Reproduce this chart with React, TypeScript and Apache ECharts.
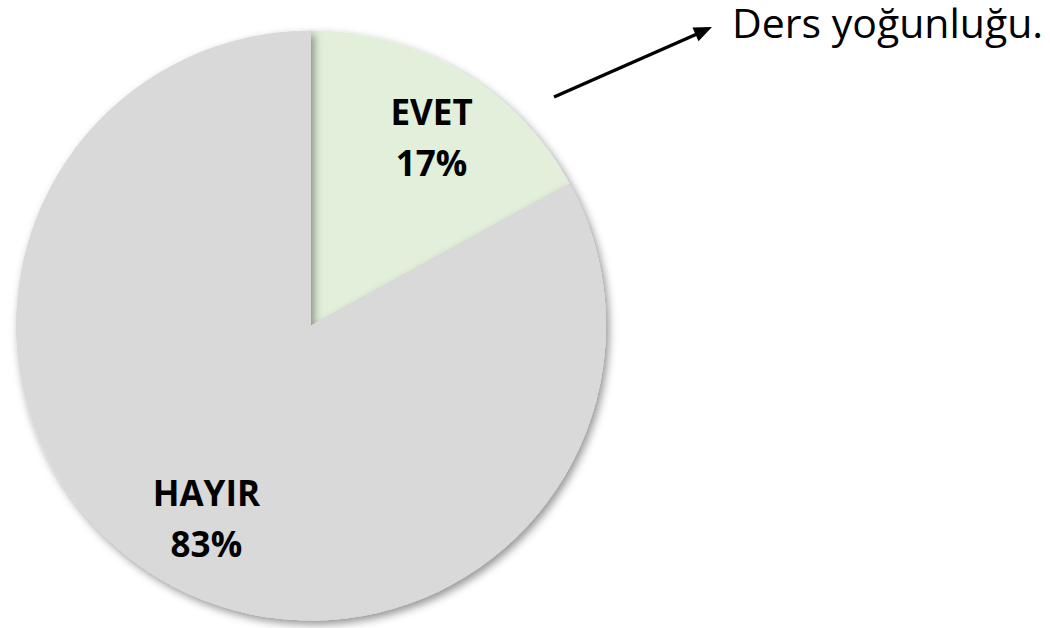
import React, { useEffect, useRef } from "react";
import * as echarts from "echarts";

const categories = ["EVET", "HAYIR"];
const values = [17, 83];
const colors = ["#E2EFDA", "#D9D9D9"];
const annotation = "Ders yoğunluğu.";

export default function App() {
  const ref = useRef<HTMLDivElement>(null);
  useEffect(() => {
    document.body.style.margin = "0";
    const chart = echarts.init(ref.current!, null, { renderer: "svg" });
    const cx = 311;
    const cy = 325.5;
    const k = 1.47;
    chart.setOption({
      animation: false,
      backgroundColor: "#ffffff",
      series: [
        {
          type: "pie",
          center: [cx, cy],
          radius: [0, 295],
          startAngle: 90,
          clockwise: true,
          silent: true,
          data: categories.map((name, i) => ({
            name,
            value: values[i],
            itemStyle: { color: colors[i] },
          })),
          itemStyle: {
            borderWidth: 0,
            shadowBlur: 8,
            shadowOffsetX: 3,
            shadowOffsetY: 4,
            shadowColor: "rgba(0,0,0,0.42)",
          },
          label: {
            show: true,
            position: "inside",
            formatter: (p: any) => `${p.name}\n${Math.round(p.percent)}%`,
            fontFamily: "Open Sans",
            fontWeight: "bold",
            fontSize: 35,
            lineHeight: 51,
            color: "#000000",
          },
          labelLayout: (p: any) => {
            const r = p.labelRect;
            const lx = r.x + r.width / 2;
            const ly = r.y + r.height / 2;
            return { x: cx + (lx - cx) * k + 8, y: cy + (ly - cy) * k + 2 };
          },
          labelLine: { show: false },
        },
      ],
      graphic: [
        {
          type: "line",
          shape: { x1: 554, y1: 97, x2: 697, y2: 34 },
          style: { stroke: "#000000", lineWidth: 3.5 },
        },
        {
          type: "polygon",
          shape: { points: [[712, 27], [692.5, 27.4], [698.5, 41.2]] },
          style: { fill: "#000000" },
        },
        {
          type: "text",
          x: 732,
          y: 22,
          style: {
            text: annotation,
            font: "41px 'Open Sans'",
            fill: "#000000",
            align: "left",
            verticalAlign: "middle",
          },
        },
      ],
    });
    return () => chart.dispose();
  }, []);
  return (
    <div
      ref={ref}
      style={{ position: "absolute", left: 0, top: 0, width: 1050, height: 628 }}
    />
  );
}
